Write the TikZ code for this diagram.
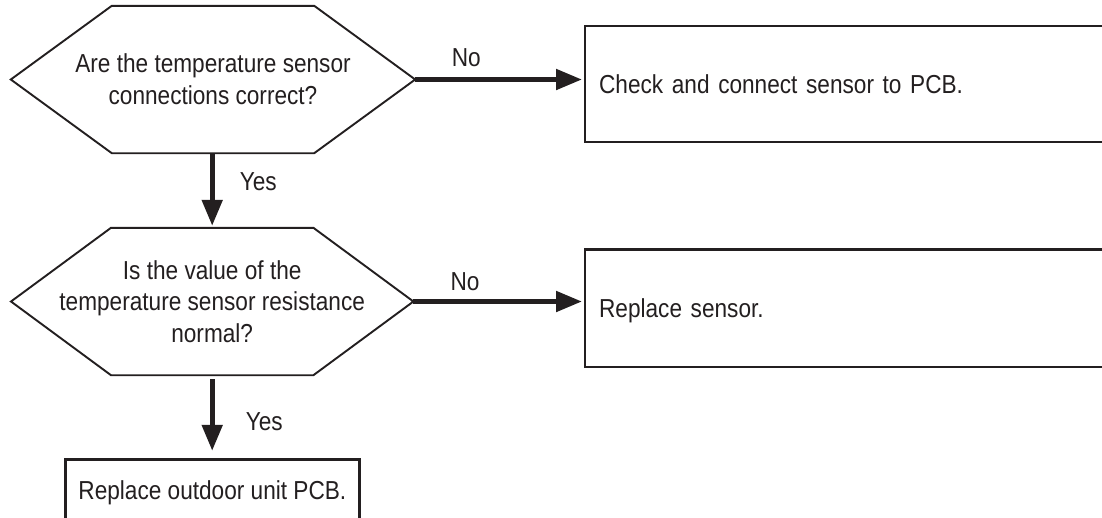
\documentclass[tikz,border=0pt]{standalone}
\usepackage{fontspec}
\setmainfont[FakeStretch=0.87]{Liberation Sans}
\usetikzlibrary{arrows.meta}
\definecolor{ink}{HTML}{231F20}
\begin{document}
\begin{tikzpicture}[x=1pt,y=-1pt,
  every node/.style={font=\fontsize{26}{32}\selectfont, text=ink},
  hexq/.style={inner sep=0pt, align=center, minimum height=147pt},
  hexline/.style={draw=ink, line width=1.9pt, line join=miter},
  boxstep/.style={draw=ink, line width=2.2pt, rectangle, inner xsep=14pt, inner ysep=0pt, text depth=0pt},
  flow/.style={draw=ink, line width=5pt, -{Triangle[length=26pt,width=20pt]}},
  lbl/.style={anchor=base, inner sep=0pt}]
\useasboundingbox (0,0) rectangle (1102,517);
\fill[white] (0,0) rectangle (1102,517);
\clip (0,0) rectangle (1102,517);

% decision nodes
\node[hexq, minimum width=404pt] (q1) at (213,79.5) {Are the temperature sensor\\connections correct?};
\node[hexq, minimum width=402pt, font=\fontsize{26}{31.5}\selectfont] (q2) at (212.2,301.5) {Is the value of the\\temperature sensor resistance\\normal?};

\draw[hexline] ([xshift=101pt]q1.north west) -- ([xshift=-101pt]q1.north east) -- (q1.east) -- ([xshift=-101pt]q1.south east) -- ([xshift=101pt]q1.south west) -- (q1.west) -- cycle;
\draw[hexline] ([xshift=100pt]q2.north west) -- ([xshift=-100pt]q2.north east) -- (q2.east) -- ([xshift=-100pt]q2.south east) -- ([xshift=100pt]q2.south west) -- (q2.west) -- cycle;

% action boxes
\node[boxstep, anchor=north west, minimum height=116pt, text width=600pt, align=left] (b1) at (584,25) {Check and connect sensor to PCB.};
\node[boxstep, anchor=north west, minimum height=117.4pt, text width=600pt, align=left] (b2) at (584,248.3) {Replace sensor.};
\node[boxstep, anchor=north west, minimum width=294pt, minimum height=62pt, inner xsep=0pt, align=center] (b3) at (64.3,458.3) {Replace outdoor unit PCB.};

% connectors
\draw[flow, shorten >=2pt] (q1.east) -- (q1.east -| b1.west);
\draw[flow, shorten >=2pt] (q2.east) -- (q2.east -| b2.west);
\draw[flow, shorten >=2pt] (q1.south -| q2.north) -- (q2.north);
\draw[flow, shorten <=4pt, shorten >=7.5pt] (q2.south) -- (q2.south |- b3.north);

% labels
\node[lbl] (no1) at (466.3,66.7) {No};
\node[lbl] (no2) at (465,290.7) {No};
\node[lbl] (yes1) at (258.3,190.7) {Yes};
\node[lbl] (yes2) at (264.2,430) {Yes};
\end{tikzpicture}
\end{document}
